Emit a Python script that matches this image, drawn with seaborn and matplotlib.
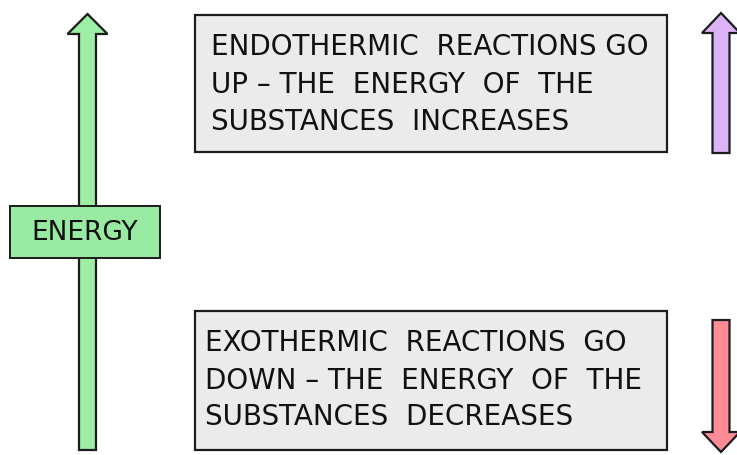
import matplotlib
matplotlib.use("Agg")
import matplotlib.pyplot as plt
from matplotlib.patches import Polygon, Rectangle
import seaborn as sns

# ---- content ----
axis_label = "ENERGY"
endo_lines = ["ENDOTHERMIC  REACTIONS GO", "UP \u2013 THE  ENERGY  OF  THE", "SUBSTANCES  INCREASES"]
exo_lines = ["EXOTHERMIC  REACTIONS  GO", "DOWN \u2013 THE  ENERGY  OF  THE", "SUBSTANCES  DECREASES"]
arrow_names = ["energy", "endo", "exo"]
arrow_colors = {"energy": "#9cefa5", "endo": "#ddb3f8", "exo": "#ff8b97"}
label_color = "#98e9a1"
box_color = "#ebebeb"
edge = "#1c1c1c"

sns.set_theme(style="white")
plt.rcParams["font.family"] = ["DejaVu Sans"]

W, H = 737, 455
fig = plt.figure(figsize=(W / 100, H / 100), dpi=100)
ax = fig.add_axes([0, 0, 1, 1])
ax.set_xlim(0, W)
ax.set_ylim(H, 0)
ax.axis("off")


def arrow(cx, y_tail, y_tip, shaft_w, head_w, head_len, color):
    d = 1 if y_tip > y_tail else -1
    yb = y_tip - d * head_len
    pts = [
        (cx - shaft_w / 2, y_tail), (cx - shaft_w / 2, yb), (cx - head_w / 2, yb),
        (cx, y_tip), (cx + head_w / 2, yb), (cx + shaft_w / 2, yb),
        (cx + shaft_w / 2, y_tail),
    ]
    ax.add_patch(Polygon(pts, closed=True, facecolor=color, edgecolor=edge,
                         linewidth=1.6, joinstyle="miter", zorder=2))


# main energy arrow
arrow(87.5, 450, 14, 17, 40, 20, arrow_colors["energy"])
# endothermic (up) and exothermic (down) arrows
arrow(721, 153, 13, 17, 38, 20, arrow_colors["endo"])
arrow(721, 320, 452, 17, 38, 20, arrow_colors["exo"])

# ENERGY label box
ax.add_patch(Rectangle((10, 206), 150, 52, facecolor=label_color, edgecolor=edge,
                       linewidth=1.4, zorder=3))
ax.text(85, 233, axis_label, ha="center", va="center", fontsize=19,
        color="#111111", zorder=4)

# text boxes
for (x0, y0, w, h), lines, tx, ys in [
    ((195, 15, 472, 137), endo_lines, 211, [47, 85, 122]),
    ((195, 311, 472, 139), exo_lines, 205, [343, 381, 417]),
]:
    ax.add_patch(Rectangle((x0, y0), w, h, facecolor=box_color, edgecolor=edge,
                           linewidth=1.6, zorder=3))
    for y, s in zip(ys, lines):
        ax.text(tx, y, s, ha="left", va="center", fontsize=20,
                color="#111111", zorder=4)

fig.savefig("out.png", dpi=100)
